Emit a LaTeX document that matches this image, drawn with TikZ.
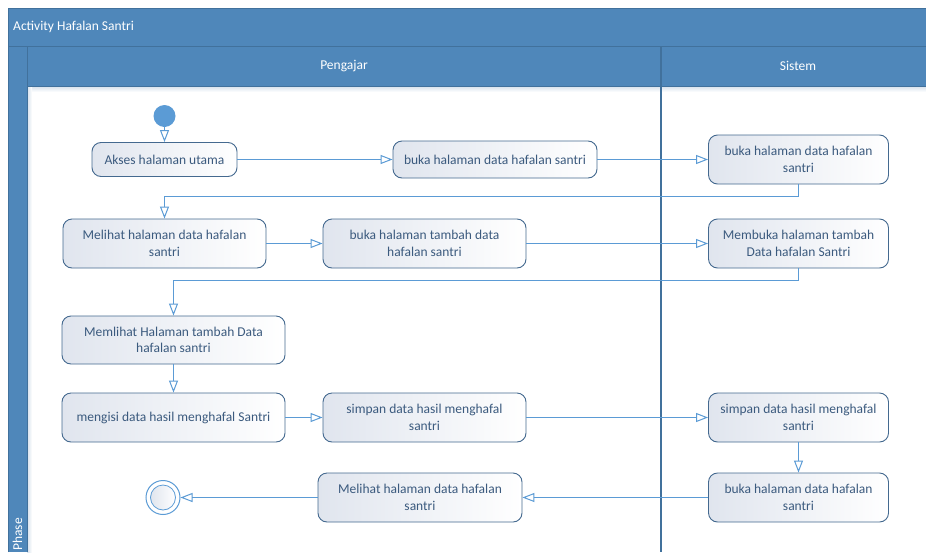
\documentclass[tikz,border=0pt]{standalone}
\usepackage{fontspec}
\setmainfont{Carlito}
\usetikzlibrary{arrows.meta,shadings}
\definecolor{laneblue}{HTML}{4F87BA}
\definecolor{lanedark}{HTML}{41719C}
\definecolor{conn}{HTML}{5B9BD5}
\definecolor{boxline}{HTML}{44698F}
\definecolor{boxtext}{HTML}{3B5A7E}
\definecolor{boxshade}{HTML}{E0E5EE}
\definecolor{shadowc}{HTML}{D5E0EC}
\begin{document}
\begin{tikzpicture}[x=1pt,y=-1pt,
  act/.style={draw=boxline, line width=0.9pt, rounded corners=9pt,
    left color=boxshade, right color=white, inner sep=0pt,
    align=center, text=boxtext, font=\fontsize{13.5}{16.5}\selectfont},
  flow/.style={draw=conn, line width=1pt,
    -{Triangle[open, length=12pt, width=9pt]}},
  hdr/.style={text=white, font=\fontsize{13.5}{16}\selectfont, inner sep=0pt}
]
\useasboundingbox (0,0) rectangle (926,552);
\fill[white] (0,0) rectangle (926,552);
% swimlane frame
\fill[laneblue] (8,8) rectangle (926,86);
\fill[laneblue] (8,46) rectangle (27,552);
\shade[top color=shadowc, bottom color=white] (27,86) rectangle (926,92);
\shade[left color=shadowc, right color=white] (27,86) rectangle (32,552);
\draw[lanedark, line width=0.8pt] (8,552) -- (8,8) -- (926,8);
\draw[lanedark, line width=0.8pt] (8,46) -- (926,46);
\draw[lanedark, line width=0.8pt] (27,46) -- (27,552);
\draw[lanedark, line width=0.8pt] (27,86) -- (926,86);
\draw[lanedark, line width=1.5pt] (661,46) -- (661,552);
\node[hdr, anchor=west] (title) at (13,27) {Activity Hafalan Santri};
\node[hdr] (pengajar) at (344,66) {Pengajar};
\node[hdr] (sistem) at (798,66) {Sistem};
\node[hdr, rotate=90, anchor=west] (phase) at (17.5,551) {Phase};
% nodes
\node[circle, fill=conn, minimum size=22pt, inner sep=0pt] (start) at (164.5,116) {};
\node[act, minimum width=145pt, minimum height=34pt] (akses) at (164.5,159.5) {Akses halaman utama};
\node[act, minimum width=204pt, minimum height=37pt] (buka1) at (495,159.5) {buka halaman data hafalan santri};
\node[act, minimum width=180pt, minimum height=49pt] (sis1) at (798.5,159.5) {buka halaman data hafalan\\santri};
\node[act, minimum width=203pt, minimum height=49pt] (melihat) at (164.5,243.5) {Melihat halaman data hafalan\\santri};
\node[act, minimum width=203pt, minimum height=49pt] (tambah) at (424.5,243.5) {buka halaman tambah data\\hafalan santri};
\node[act, minimum width=180pt, minimum height=49pt] (sis2) at (798.5,243.5) {Membuka halaman tambah\\Data hafalan Santri};
\node[act, minimum width=223pt, minimum height=48pt] (memlihat) at (173.5,340) {Memlihat Halaman tambah Data\\hafalan santri};
\node[act, minimum width=223pt, minimum height=49pt] (mengisi) at (173.5,417.5) {mengisi data hasil menghafal Santri};
\node[act, minimum width=203pt, minimum height=49pt] (simpan) at (424.5,417.5) {simpan data hasil menghafal\\santri};
\node[act, minimum width=180pt, minimum height=49pt] (sis3) at (798.5,417.5) {simpan data hasil menghafal\\santri};
\node[act, minimum width=204pt, minimum height=49pt] (melihat2) at (420,497.5) {Melihat halaman data hafalan\\santri};
\node[act, minimum width=180pt, minimum height=49pt] (sis4) at (798.5,497.5) {buka halaman data hafalan\\santri};
\node[circle, draw=conn, line width=1pt, fill=white, minimum size=34pt, inner sep=0pt] (final) at (163,497.5) {};
\node[circle, draw=conn, line width=0.8pt, left color=boxshade, right color=white, minimum size=25pt, inner sep=0pt] (finalin) at (163,497.5) {};
% connectors
\draw[flow] (start) -- (akses);
\draw[flow] (akses) -- (buka1.west |- akses.east);
\draw[flow] (buka1.east |- akses.east) -- (sis1.west |- akses.east);
\draw[flow] (sis1.south) |- (164.5,196.5) -- (melihat.north);
\draw[flow] (melihat) -- (tambah);
\draw[flow] (tambah) -- (sis2);
\draw[flow] (sis2.south) |- (173.5,280.5) -- (memlihat.north);
\draw[flow] (memlihat) -- (mengisi);
\draw[flow] (mengisi) -- (simpan);
\draw[flow] (simpan) -- (sis3);
\draw[flow] (sis3) -- (sis4);
\draw[flow] (sis4.west) -- (melihat2.east |- sis4.west);
\draw[flow] (melihat2.west |- final.east) -- (final.east);
\end{tikzpicture}
\end{document}
